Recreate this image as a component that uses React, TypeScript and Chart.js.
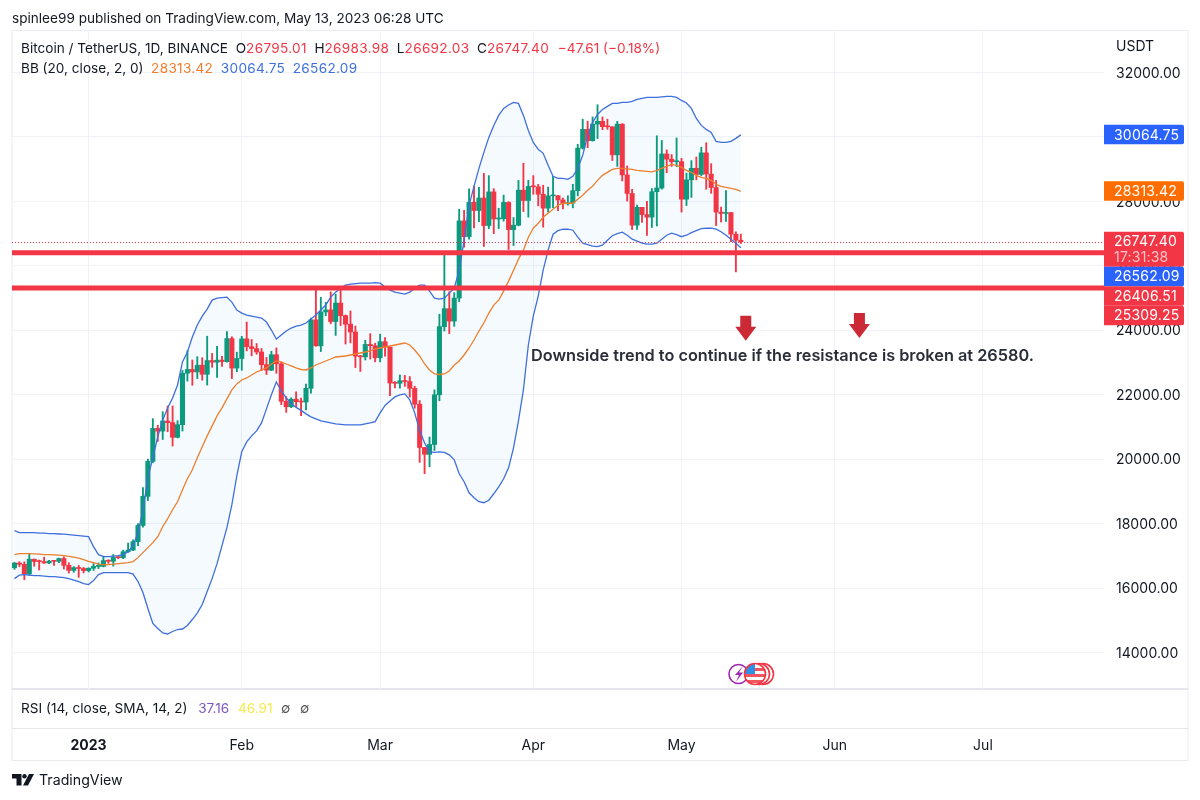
import { useEffect, useRef } from "react"
import { Chart, registerables } from "chart.js"

Chart.register(...registerables)

const opens = [
  16631, 16777, 16738, 16438, 16896, 16824, 16821, 16779, 16837, 16830, 16917, 16706, 16547, 16633, 16607,
  16542, 16616, 16672, 16674, 16851, 16831, 16950, 16943, 17127, 17178, 17440, 17943, 18846, 19930, 20954, 20871, 21185, 21134, 20677, 21071, 22667, 22783, 22707, 22916, 22633, 23060, 23009, 23074, 23027, 23743, 22826,
  23125, 23733, 23490, 23431, 23326, 22932, 22762, 23242, 22961, 21796, 21625, 21862, 21783, 21773, 22199, 24324, 23517, 24569, 24631, 24271, 24844, 24453, 24188, 23947, 23198, 23175, 23561, 23522,
  23147, 23646, 23476, 22362, 22354, 22435, 22409, 22197, 21705, 20362, 20150, 20455, 21997, 24113, 24670, 24285, 24998, 27395, 26907, 27972, 27717, 28105, 27250, 28295, 27454, 27462, 27968, 27124, 27261, 28348, 28028,
  28465, 28452, 28222, 27790, 28171, 28175, 28044, 27925, 27947, 28333, 29653, 30235, 29884, 30399, 30485, 30318, 30315, 29445, 30397, 28822, 28245, 27262, 27816, 27590, 27512, 28300, 28415, 29472, 29311, 29230,
  29233, 28068, 28669, 29027, 28836, 29506, 28848, 28430, 27668, 27625, 27654, 26981, 26795,
]
const highs = [
  16796, 16816, 16816, 17061, 16900, 16868, 16959, 16864, 16860, 16930, 16972, 16785, 16664, 16700, 16642,
  16628, 16760, 16779, 16991, 16879, 17041, 16977, 17176, 17398, 17499, 18000, 19117, 20000, 21258, 21050, 21473, 21650, 21650, 21194, 22755, 23371, 23078, 23180, 23150, 23816, 23282, 23500, 23189, 23960, 23800, 23320,
  23812, 24255, 23715, 23587, 23433, 23158, 23350, 23452, 23011, 21938, 21906, 22090, 21894, 22327, 24380, 25250, 25021, 24867, 25192, 25121, 25250, 24476, 24600, 24132, 23222, 23689, 23895, 23600,
  23880, 23775, 23479, 22405, 22613, 22600, 22564, 22263, 21819, 20367, 20686, 22150, 24500, 26386, 25196, 25167, 27756, 27724, 28390, 28472, 28438, 28868, 28800, 28395, 27787, 28195, 27990, 27499, 28650, 29184, 28656,
  28800, 28530, 28500, 28444, 28775, 28190, 28100, 28175, 28530, 29770, 30550, 30490, 30620, 31000, 30620, 30550, 30319, 30485, 30412, 29100, 28374, 27885, 27816, 28000, 28400, 30036, 29890, 29599, 29454, 29969,
  29337, 28879, 29266, 29379, 29677, 29820, 29170, 28650, 27820, 28336, 27660, 27055, 26984,
]
const lows = [
  16579, 16660, 16256, 16397, 16676, 16560, 16766, 16760, 16700, 16790, 16592, 16465, 16488, 16333, 16470,
  16499, 16546, 16605, 16656, 16766, 16679, 16908, 16911, 17104, 17162, 17315, 17892, 18714, 19888, 20551, 20611, 20850, 20407, 20659, 20873, 22422, 22292, 22500, 22450, 22300, 22850, 22534, 22878, 23010, 22500, 22714,
  22760, 23360, 23206, 23256, 22745, 22628, 22745, 22665, 21688, 21451, 21599, 21630, 21351, 21532, 22047, 23505, 23339, 24450, 24200, 23840, 24148, 23574, 23608, 22841, 22722, 23077, 23106, 23020,
  23020, 23195, 21971, 22209, 22203, 22258, 21927, 21580, 19900, 19549, 19765, 20270, 21813, 23976, 23896, 24123, 24890, 26578, 26827, 27178, 27369, 26601, 27155, 27000, 27156, 27386, 26508, 26631, 27240, 27686, 27511,
  28220, 27860, 27200, 27668, 27805, 27711, 27766, 27883, 27800, 28170, 29620, 29666, 29868, 29950, 30226, 30236, 29268, 29087, 28635, 28010, 27125, 27130, 27350, 26943, 27192, 27235, 28378, 28891, 29088, 29079,
  27666, 27872, 28125, 28670, 28800, 28377, 28250, 27250, 27366, 27375, 26751, 25811, 26692,
]
const closes = [
  16777, 16738, 16438, 16896, 16824, 16821, 16779, 16837, 16830, 16917, 16706, 16547, 16633, 16607, 16542,
  16616, 16672, 16674, 16851, 16831, 16950, 16943, 17127, 17178, 17440, 17943, 18846, 19930, 20954, 20871, 21185, 21134, 20677, 21071, 22667, 22783, 22707, 22916, 22633, 23060, 23009, 23074, 23027, 23743, 22826, 23125,
  23733, 23490, 23431, 23326, 22932, 22762, 23242, 22961, 21796, 21625, 21862, 21783, 21773, 22199, 24324, 23517, 24569, 24631, 24271, 24844, 24453, 24188, 23947, 23198, 23175, 23561, 23522, 23147,
  23646, 23476, 22362, 22354, 22435, 22409, 22197, 21705, 20362, 20150, 20455, 21997, 24113, 24670, 24285, 24998, 27395, 26907, 27972, 27717, 28105, 27250, 28295, 27454, 27462, 27968, 27124, 27261, 28348, 28028, 28465,
  28452, 28222, 27790, 28171, 28175, 28044, 27925, 27947, 28333, 29653, 30235, 29884, 30399, 30485, 30318, 30315, 29445, 30397, 28822, 28245, 27262, 27816, 27590, 27512, 28300, 28415, 29472, 29311, 29230, 29233,
  28068, 28669, 29027, 28836, 29506, 28848, 28430, 27668, 27625, 27654, 26981, 26796, 26747,
]

// Bollinger bands
const bbUpper = [
  17780, 17718, 17718, 17718, 17718, 17703, 17703, 17687, 17687, 17678, 17672, 17656, 17641, 17625, 17610,
  17594, 17285, 17037, 16975, 16975, 16990, 17006, 17037, 17130, 17315, 17718, 18431, 19422, 20042, 20692, 21219, 21591, 21900, 22303, 23016, 23326, 23790, 24162, 24441, 24658, 24937, 24999, 25014, 25030, 24875, 24627,
  24534, 24472, 24441, 24410, 24379, 24255, 24007, 23728, 23852, 23976, 24069, 24131, 24162, 24224, 24348, 24472, 24627, 24782, 25030, 25184, 25308, 25401, 25432, 25448, 25463, 25463, 25463, 25479,
  25463, 25339, 25246, 25184, 25153, 25122, 25184, 25308, 25401, 25401, 25215, 24999, 24968, 24999, 25153, 25308, 25866, 26795, 27880, 28468, 29026, 29522, 29986, 30358, 30668, 30885, 30993, 31071, 31040, 30668, 30203,
  29831, 29615, 29491, 29119, 28778, 28716, 28716, 28685, 28778, 29026, 29429, 30048, 30451, 30699, 30854, 30947, 31040, 31040, 31071, 31071, 31102, 31164, 31195, 31226, 31226, 31226, 31241, 31257, 31257, 31226,
  31133, 31055, 30885, 30575, 30358, 30234, 30141, 29862, 29831, 29831, 29862, 29955, 30064.75,
]
const bbBasis = [
  17037, 17068, 17068, 17068, 17062, 17053, 17037, 17037, 17028, 17022, 17006, 16984, 16959, 16928, 16882,
  16829, 16789, 16742, 16727, 16727, 16742, 16758, 16773, 16789, 16820, 16944, 17099, 17254, 17409, 17594, 17904, 18152, 18431, 18679, 19050, 19391, 19670, 20042, 20383, 20723, 21033, 21343, 21591, 21870, 22148, 22334,
  22458, 22520, 22613, 22706, 22768, 22830, 22954, 23047, 23016, 22954, 22892, 22830, 22783, 22768, 22830, 22923, 22985, 23047, 23109, 23171, 23186, 23202, 23233, 23264, 23295, 23326, 23357, 23419,
  23450, 23481, 23512, 23543, 23574, 23605, 23543, 23388, 23202, 22954, 22768, 22644, 22628, 22644, 22737, 22923, 23047, 23233, 23450, 23697, 23976, 24224, 24534, 24782, 24937, 25215, 25525, 25866, 26207, 26486, 26888,
  27167, 27322, 27508, 27632, 27756, 27880, 27942, 27942, 27942, 28066, 28189, 28344, 28468, 28654, 28809, 28902, 28995, 29026, 29026, 29010, 28995, 28964, 28948, 28933, 28917, 28964, 29026, 29088, 29150, 29119,
  29057, 28964, 28902, 28809, 28747, 28716, 28654, 28530, 28468, 28437, 28406, 28375, 28313.42,
]
const bbLower = [
  16293, 16402, 16417, 16402, 16386, 16386, 16371, 16355, 16355, 16340, 16324, 16293, 16247, 16200, 16138,
  16107, 16231, 16417, 16479, 16479, 16479, 16479, 16479, 16479, 16433, 16200, 15859, 15364, 14899, 14744, 14605, 14574, 14651, 14713, 14729, 14837, 15023, 15225, 15488, 15890, 16293, 16758, 17315, 17873, 18586, 19484,
  20228, 20537, 20723, 20878, 21126, 21560, 21996, 22396, 22117, 21900, 21730, 21606, 21513, 21405, 21312, 21250, 21188, 21157, 21126, 21095, 21079, 21064, 21064, 21064, 21064, 21095, 21126, 21166,
  21436, 21668, 21808, 21932, 21994, 22024, 21839, 21436, 20878, 20506, 20228, 20212, 20228, 20212, 20135, 19980, 19546, 19298, 18957, 18802, 18679, 18648, 18725, 18926, 19143, 19391, 19732, 20352, 21188, 22148, 23543,
  24441, 25060, 25866, 26486, 26982, 27090, 27136, 27136, 27105, 26888, 26702, 26656, 26609, 26594, 26640, 26795, 26935, 26997, 27043, 26950, 26826, 26764, 26702, 26671, 26671, 26702, 26826, 26950, 27012, 26966,
  26904, 26950, 27028, 27090, 27152, 27167, 27167, 27136, 27059, 26950, 26826, 26702, 26562.09,
]

const lastPrice = 26747.4
const levels = [26406.51, 25309.25]
const priceTicks = [14000, 16000, 18000, 20000, 22000, 24000, 26000, 28000, 30000, 32000]
const monthTicks: Record<string, string> = {
  "2023-01-01": "2023",
  "2023-02-01": "Feb",
  "2023-03-01": "Mar",
  "2023-04-01": "Apr",
  "2023-05-01": "May",
  "2023-06-01": "Jun",
  "2023-07-01": "Jul",
}
// axis runs on past the last candle, empty days up to late July
const days = Array.from({ length: 221 }, (_, i) => new Date(Date.UTC(2022, 11, 17 + i)).toISOString().slice(0, 10))

const priceTags = [
  { price: 30064.75, color: "#2962ff", text: "30064.75" },
  { price: 28313.42, color: "#ff6d00", text: "28313.42" },
  { price: 26747.4, color: "#f23645", text: "26747.40", sub: "17:31:38" },
  { price: 26562.09, color: "#2962ff", text: "26562.09" },
  { price: 26406.51, color: "#f23645", text: "26406.51" },
  { price: 25309.25, color: "#f23645", text: "25309.25" },
]
// [day, price] of the tip of each drawn arrow
const arrowTips: [string, number][] = [
  ["2023-05-14", 23678],
  ["2023-06-06", 23762],
]

const UP = "#0b9a7d"
const DOWN = "#f23645"
const BAND = "#3f6fdd"
const FONT = "Inter, 'Noto Sans', sans-serif"
const INK = "#131722"

const overlay = {
  id: "overlay",
  beforeDraw(chart: any) {
    const { ctx } = chart
    ctx.save()
    ctx.strokeStyle = "#e9ecf3"
    ctx.lineWidth = 1
    ctx.strokeRect(12, 30.5, 1176, 730)
    ctx.strokeStyle = "#e4e6ec"
    ctx.lineWidth = 2
    ctx.beginPath()
    ctx.moveTo(12, 689)
    ctx.lineTo(1188, 689)
    ctx.stroke()
    ctx.lineWidth = 1
    ctx.beginPath()
    ctx.moveTo(12, 728.5)
    ctx.lineTo(1188, 728.5)
    ctx.stroke()
    ctx.restore()
  },
  afterDatasetsDraw(chart: any) {
    const { ctx, chartArea, scales } = chart
    ctx.save()
    // dotted last price line
    const py = Math.round(scales.y.getPixelForValue(lastPrice)) + 0.5
    ctx.strokeStyle = "#f23645"
    ctx.lineWidth = 1
    ctx.setLineDash([1, 2])
    ctx.beginPath()
    ctx.moveTo(chartArea.left, py)
    ctx.lineTo(chartArea.right, py)
    ctx.stroke()
    ctx.setLineDash([])
    // the two drawn levels
    ctx.strokeStyle = "#f23645"
    ctx.lineWidth = 5
    levels.forEach((v) => {
      const y = scales.y.getPixelForValue(v)
      ctx.beginPath()
      ctx.moveTo(chartArea.left, y)
      ctx.lineTo(chartArea.right, y)
      ctx.stroke()
    })
    // arrows
    ctx.fillStyle = "#cc2936"
    arrowTips.forEach(([day, v]) => {
      const x = scales.x.getPixelForValue(days.indexOf(day))
      const y = scales.y.getPixelForValue(v)
      ctx.beginPath()
      ctx.moveTo(x, y)
      ctx.lineTo(x - 10.5, y - 14)
      ctx.lineTo(x - 5.5, y - 14)
      ctx.lineTo(x - 5.5, y - 25)
      ctx.lineTo(x + 5.5, y - 25)
      ctx.lineTo(x + 5.5, y - 14)
      ctx.lineTo(x + 10.5, y - 14)
      ctx.closePath()
      ctx.fill()
    })
    // event badges
    ctx.lineWidth = 1.6
    ctx.strokeStyle = "#f23645"
    ;[763, 759].forEach((x) => {
      ctx.fillStyle = "#fff"
      ctx.beginPath()
      ctx.arc(x, 674, 10.5, 0, Math.PI * 2)
      ctx.fill()
      ctx.stroke()
    })
    ctx.strokeStyle = "#9c27b0"
    ctx.fillStyle = "#fff"
    ctx.beginPath()
    ctx.arc(738.5, 674, 9.5, 0, Math.PI * 2)
    ctx.stroke()
    ctx.fillStyle = "#9c27b0"
    ctx.beginPath()
    ctx.moveTo(743, 666)
    ctx.lineTo(735, 675)
    ctx.lineTo(739, 675)
    ctx.lineTo(736, 682)
    ctx.lineTo(743, 672.5)
    ctx.lineTo(739, 672.5)
    ctx.closePath()
    ctx.fill()
    // flag disc
    ctx.save()
    ctx.beginPath()
    ctx.arc(755, 674, 10.5, 0, Math.PI * 2)
    ctx.fillStyle = "#fff"
    ctx.fill()
    ctx.clip()
    ctx.fillStyle = "#f0565f"
    ctx.fillRect(744, 668, 22, 3)
    ctx.fillRect(744, 674, 22, 3)
    ctx.fillRect(744, 680, 22, 3)
    ctx.fillStyle = "#2f8fe6"
    ctx.fillRect(744, 663, 11, 11)
    ctx.restore()
    ctx.strokeStyle = "#f23645"
    ctx.beginPath()
    ctx.arc(755, 674, 10.5, 0, Math.PI * 2)
    ctx.stroke()
    ctx.restore()
  },
  afterDraw(chart: any) {
    const { ctx, scales } = chart
    ctx.save()
    ctx.font = `14px ${FONT}`
    ctx.textBaseline = "middle"
    ctx.textAlign = "left"
    ctx.letterSpacing = "0.2px"
    // tags are stacked so they never overlap, as on the price axis
    let floor = 0
    priceTags.forEach((t) => {
      const h = t.sub ? 35 : 19.5
      const natural = scales.y.getPixelForValue(t.price) - 10
      const top = Math.max(natural, floor)
      floor = top + h
      ctx.fillStyle = t.color
      ctx.beginPath()
      ctx.roundRect(1104, top, 80, h, [0, 2, 2, 0])
      ctx.fill()
      ctx.fillStyle = "#fff"
      ctx.fillText(t.text, 1114, top + 10.5)
      if (t.sub) {
        ctx.fillStyle = "rgba(255,255,255,0.7)"
        ctx.fillText(t.sub, 1114, top + 26.5)
      }
    })
    ctx.restore()
  },
}

const hdr: React.CSSProperties = { position: "absolute", whiteSpace: "pre", fontFamily: FONT, color: INK, lineHeight: "18px", fontSize: 13.6 }
const num: React.CSSProperties = { color: DOWN, letterSpacing: "0.3px" }

export default function App() {
  const chartRef = useRef<HTMLCanvasElement>(null)

  useEffect(() => {
    if (!chartRef.current) return
    const up = (i: number) => closes[i] >= opens[i]
    const chart = new Chart(chartRef.current, {
      type: "bar",
      plugins: [overlay],
      data: {
        labels: days,
        datasets: [
          {
            type: "line",
            data: bbUpper,
            borderWidth: 0,
            pointRadius: 0,
            backgroundColor: "rgba(33,150,243,0.05)",
            fill: { target: 5 },
            order: 6,
          },
          {
            data: lows.map((l, i) => [l, highs[i]]),
            backgroundColor: (c: any) => (up(c.dataIndex) ? UP : DOWN),
            barThickness: 1.2,
            grouped: false,
            order: 5,
          },
          {
            data: opens.map((o, i) => [o, closes[i]]),
            backgroundColor: (c: any) => (up(c.dataIndex) ? UP : DOWN),
            barThickness: 4.4,
            minBarLength: 1,
            grouped: false,
            order: 4,
          },
          { type: "line", data: bbBasis, borderColor: "#ee7f2d", borderWidth: 1.3, pointRadius: 0, order: 3 },
          { type: "line", data: bbUpper, borderColor: BAND, borderWidth: 1.3, pointRadius: 0, order: 2 },
          { type: "line", data: bbLower, borderColor: BAND, borderWidth: 1.3, pointRadius: 0, order: 1 },
        ] as any,
      },
      options: {
        responsive: false,
        animation: false,
        events: [],
        layout: { padding: { left: 12, right: 12, top: 30, bottom: 40 } },
        plugins: { legend: { display: false }, tooltip: { enabled: false } },
        scales: {
          x: {
            type: "category",
            offset: true,
            border: { display: false },
            grid: {
              offset: false,
              drawTicks: false,
              color: (c: any) => (c.tick && monthTicks[days[c.index]] ? "#f0f2f7" : "transparent"),
            },
            ticks: {
              autoSkip: false,
              maxRotation: 0,
              padding: 48,
              color: INK,
              font: (c: any) =>
                c.tick && c.tick.label === "2023"
                  ? { family: FONT, size: 14, weight: "bold" }
                  : { family: FONT, size: 14 },
              callback: (_v: any, i: number) => monthTicks[days[i]] || "",
            },
            afterFit: (s: any) => {
              s.height = 71
              s.paddingLeft = 0
              s.paddingRight = 0
            },
          },
          y: {
            position: "right",
            min: 12867,
            max: 33319,
            border: { display: false },
            grid: { drawTicks: false, color: "#f0f2f7" },
            ticks: {
              padding: 12,
              labelOffset: 1,
              color: INK,
              font: { family: FONT, size: 14 },
              callback: (v: any) => Number(v).toFixed(2),
            },
            afterBuildTicks: (s: any) => {
              s.ticks = priceTicks.map((value) => ({ value }))
            },
            afterFit: (s: any) => {
              s.width = 84
              s.paddingTop = 0
              s.paddingBottom = 0
            },
          },
        },
      } as any,
    })
    return () => chart.destroy()
  }, [])

  return (
    <div style={{ position: "fixed", left: 0, top: 0, width: 1200, height: 800, background: "#fff", overflow: "hidden" }}>
      <canvas ref={chartRef} width={1200} height={800} style={{ display: "block" }} />
      <div style={{ ...hdr, left: 12, top: 9 }}>spinlee99 published on TradingView.com, May 13, 2023 06:28 UTC</div>
      <div style={{ ...hdr, left: 21, top: 39 }}>
        {"Bitcoin / TetherUS, 1D, BINANCE  O"}
        <span style={num}>26795.01</span>
        {"  H"}
        <span style={num}>26983.98</span>
        {"  L"}
        <span style={num}>26692.03</span>
        {"  C"}
        <span style={num}>26747.40</span>
        <span style={{ ...num, letterSpacing: 0, marginLeft: 5 }}>{" −47.61 (−0.18%)"}</span>
      </div>
      <div style={{ ...hdr, left: 21, top: 59 }}>
        {"BB (20, close, 2, 0)  "}
        <span style={{ ...num, color: "#f57c2c" }}>28313.42</span>
        {"  "}
        <span style={{ ...num, color: "#3f6fdd" }}>30064.75</span>
        {"  "}
        <span style={{ ...num, color: "#3f6fdd" }}>26562.09</span>
      </div>
      <div style={{ ...hdr, left: 1116, top: 37, fontSize: 14 }}>USDT</div>
      <div style={{ ...hdr, left: 531, top: 346, fontSize: 16.3, fontWeight: 600, color: "#2a2e39" }}>
        Downside trend to continue if the resistance is broken at 26580.
      </div>
      <div style={{ ...hdr, left: 21, top: 699 }}>
        {"RSI (14, close, SMA, 14, 2)  "}
        <span style={{ color: "#7e57c2", marginLeft: 3 }}>37.16</span>
        {"  "}
        <span style={{ color: "#f5e94d", marginLeft: 1 }}>46.91</span>
        {"  "}
        <span style={{ color: "#555", marginLeft: 1 }}>∅</span>
        {"  "}
        <span style={{ color: "#555", marginLeft: 2 }}>∅</span>
      </div>
      <svg style={{ position: "absolute", left: 12, top: 774 }} width={22} height={12} viewBox="0 0 22 12">
        <path d="M0 0H9.5V11.5H4.5V4.5H0Z M17 0H22L16 11.5H11Z" fill={INK} />
        <circle cx={12.5} cy={2.2} r={2.2} fill={INK} />
      </svg>
      <div style={{ ...hdr, left: 39, top: 771, fontSize: 14.2 }}>TradingView</div>
    </div>
  )
}
